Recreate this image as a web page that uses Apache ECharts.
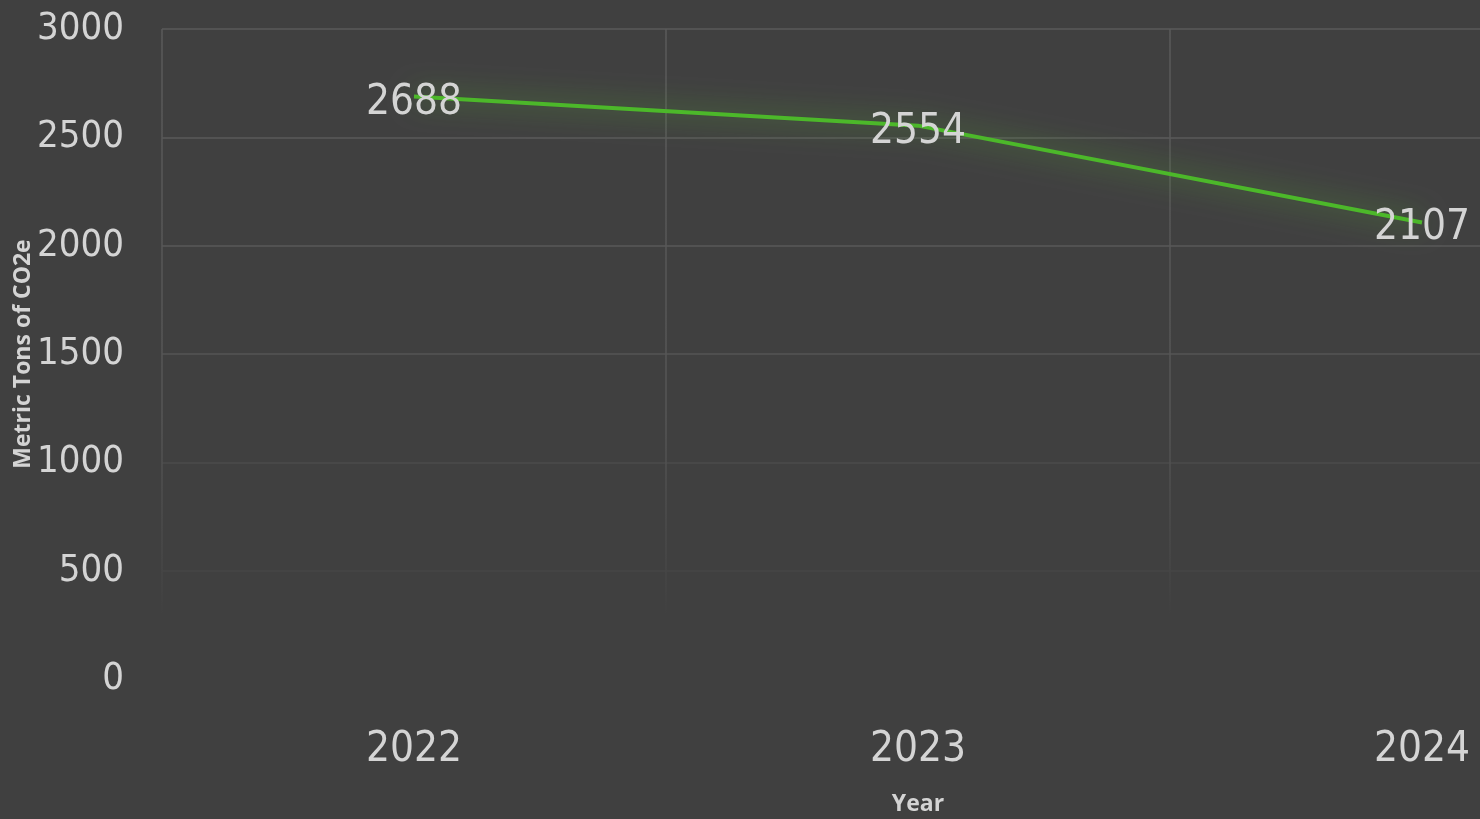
<!DOCTYPE html>
<html lang="en">
<head>
    <meta charset="UTF-8">
    <title>emissions</title>
    <script src="https://cdn.jsdelivr.net/npm/echarts@6/dist/echarts.min.js"></script>
    <style>
        html, body { margin: 0; padding: 0; background: #404040; }
        #chart { width: 1480px; height: 819px; }
    </style>
</head>
<body>
<div id="chart"></div>
<script type="text/javascript">
    var years = ['2022', '2023', '2024'];
    var emissions = [2688, 2554, 2107];
    var yTicks = [0, 500, 1000, 1500, 2000, 2500, 3000];

    var bigFont = "'Liberation Sans Narrow', 'DejaVu Sans Condensed', sans-serif";
    var textColor = '#d4d4d4';

    var myChart = echarts.init(document.getElementById('chart'));
    var option = {
        backgroundColor: '#404040',
        animation: false,
        grid: {
            left: 162,
            top: 29,
            width: 1512,
            height: 650,
            containLabel: false,
            outerBoundsMode: 'none'
        },
        xAxis: {
            type: 'category',
            data: years,
            boundaryGap: true,
            name: 'Year',
            nameLocation: 'middle',
            nameGap: 114,
            nameMoveOverlap: false,
            nameTextStyle: {
                color: textColor,
                fontSize: 23,
                fontWeight: 'bold',
                fontFamily: "'Open Sans', sans-serif"
            },
            axisLine: { show: false },
            axisTick: { show: false },
            axisLabel: {
                color: textColor,
                fontSize: 42,
                fontFamily: bigFont,
                margin: 50
            },
            splitLine: {
                show: true,
                lineStyle: {
                    width: 1.5,
                    color: new echarts.graphic.LinearGradient(0, 0, 0, 1, [
                        { offset: 0, color: '#5a5a5a' },
                        { offset: 0.6, color: '#555555' },
                        { offset: 0.86, color: '#444444' },
                        { offset: 0.9, color: '#404040' },
                        { offset: 1, color: '#404040' }
                    ])
                }
            }
        },
        yAxis: {
            type: 'value',
            min: yTicks[0],
            max: yTicks[yTicks.length - 1],
            interval: 500,
            name: 'Metric Tons of CO2e',
            nameLocation: 'middle',
            nameGap: 127,
            nameMoveOverlap: false,
            nameTextStyle: {
                color: textColor,
                fontSize: 23,
                fontWeight: 'bold',
                fontFamily: "'Open Sans', sans-serif"
            },
            axisLine: { show: false },
            axisTick: { show: false },
            axisLabel: {
                color: textColor,
                fontSize: 38,
                fontFamily: bigFont,
                margin: 38,
                formatter: function (v) { return String(v); }
            },
            splitLine: {
                show: true,
                lineStyle: {
                    width: 1.5,
                    color: ['#404040', '#464646', '#4b4b4b', '#545454', '#595959', '#5a5a5a', '#5a5a5a']
                }
            }
        },
        series: [{
            name: 'Emissions',
            type: 'line',
            data: emissions,
            symbol: 'circle',
            symbolSize: 1,
            itemStyle: { color: 'rgba(0,0,0,0)' },
            lineStyle: {
                color: '#4cb82a',
                width: 4,
                shadowColor: 'rgba(90,210,40,0.75)',
                shadowBlur: 28
            },
            label: {
                show: true,
                position: 'inside',
                offset: [0, 6],
                color: textColor,
                fontSize: 42,
                fontFamily: bigFont
            }
        }]
    };
    myChart.setOption(option);
</script>
</body>
</html>
